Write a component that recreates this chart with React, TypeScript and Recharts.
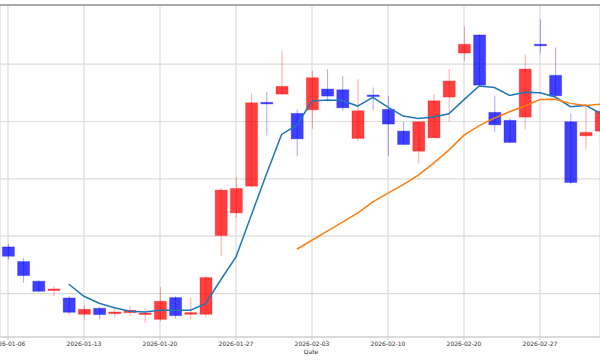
import { ComposedChart, Bar, Line, XAxis, YAxis, CartesianGrid, ReferenceLine, Label } from 'recharts';

const dates = [
  '2026-01-06', '2026-01-07', '2026-01-08', '2026-01-09', '2026-01-12',
  '2026-01-13', '2026-01-14', '2026-01-15', '2026-01-16', '2026-01-19',
  '2026-01-20', '2026-01-21', '2026-01-22', '2026-01-23', '2026-01-26',
  '2026-01-27', '2026-01-28', '2026-01-29', '2026-01-30', '2026-02-02',
  '2026-02-03', '2026-02-04', '2026-02-05', '2026-02-06', '2026-02-09',
  '2026-02-10', '2026-02-11', '2026-02-12', '2026-02-13', '2026-02-19',
  '2026-02-20', '2026-02-23', '2026-02-24', '2026-02-25', '2026-02-26',
  '2026-02-27', '2026-03-03', '2026-03-04', '2026-03-05', '2026-03-06',
];

const opens = [
  28.13, 25.58, 22.15, 20.58, 19.23, 16.39, 17.43, 16.51, 16.68, 16.39,
  15.51, 19.3, 16.39, 16.39, 30.12, 34.07, 38.73, 53.33, 54.78, 51.41,
  52.04, 55.65, 55.53, 47.05, 54.61, 52.11, 48.32, 44.83, 47.16, 54.26,
  61.94, 65.08, 51.59, 50.19, 50.77, 63.46, 58.05, 49.95, 47.5, 48.32,
];
const highs = [
  28.73, 26.21, 22.32, 21.27, 19.53, 17.96, 17.66, 17.66, 17.84, 17.38,
  21.15, 19.53, 19.3, 23.07, 38.43, 40.35, 54.9, 55.13, 62.34, 52.11,
  58.85, 59.14, 57.92, 57.4, 55.95, 54.49, 49.95, 50.07, 54.78, 59.14,
  66.53, 65.2, 54.49, 50.54, 61.71, 67.82, 62.93, 51.41, 52.98, 52.3,
];
const lows = [
  25.93, 21.85, 20.23, 19.53, 16.27, 15.51, 15.51, 15.81, 16.09, 14.87,
  15.17, 15.64, 15.46, 15.92, 26.56, 33.26, 38.5, 47.57, 54.7, 43.96,
  48.73, 53.44, 51.81, 46.63, 51.99, 43.96, 45.88, 42.69, 47.1, 49.95,
  60.54, 56.25, 48.2, 46.3, 48.62, 61.88, 54.21, 39.02, 45.13, 47.5,
];
const closes = [
  26.51, 23.14, 20.4, 20.8, 16.74, 17.26, 16.34, 16.79, 17.09, 16.61,
  18.66, 16.16, 16.68, 22.79, 38.03, 38.32, 53.26, 53.09, 56.13, 46.98,
  57.63, 54.43, 52.39, 51.87, 54.38, 49.55, 46.0, 49.95, 53.61, 57.05,
  63.46, 56.35, 49.42, 46.35, 59.14, 63.33, 54.49, 39.37, 48.1, 51.81,
];

const ma5 = [
  null, null, null, null, 21.62, 19.53, 18.31, 17.52, 16.91, 16.79,
  17.09, 17.09, 17.09, 18.25, 22.41, 26.39, 33.6, 40.82, 47.75, 49.37,
  53.56, 53.73, 53.65, 52.69, 54.21, 52.51, 50.94, 50.51, 50.77, 51.34,
  53.82, 56.18, 55.92, 54.55, 55.08, 55.01, 54.26, 52.57, 52.81, 51.38,
];
const ma20 = [
  null, null, null, null, null, null, null, null, null, null,
  null, null, null, null, null, null, null, null, null, 27.73,
  29.3, 30.87, 32.44, 34.01, 35.99, 37.5, 38.99, 40.65, 42.74, 45.01,
  47.63, 49.28, 50.59, 51.69, 52.69, 53.82, 53.86, 53.16, 52.81, 53.04,
];

const xTicks = [0, 5, 10, 15, 20, 25, 30, 35];
const yTicks = [20, 30, 40, 50, 60];
const yMin = 12.43;
const yMax = 70.31;

const data = dates.map((d, i) => ({
  idx: i,
  date: d,
  open: opens[i],
  high: highs[i],
  low: lows[i],
  close: closes[i],
  ma5: ma5[i],
  ma20: ma20[i],
}));

const Candle = (props: any) => {
  const { x, y, width, height, payload } = props;
  const { open, close, high, low } = payload;
  const color = close >= open ? '#ff0000' : '#0000ff';
  const ppu = high === low ? 0 : height / (high - low);
  const bodyTop = y + (high - Math.max(open, close)) * ppu;
  const bodyH = Math.max(Math.abs(open - close) * ppu, 1.5);
  const cx = x + width / 2;
  return (
    <g>
      <line x1={cx} x2={cx} y1={y} y2={y + height} stroke={color} strokeOpacity={0.35} strokeWidth={1} />
      <rect
        x={x}
        y={bodyTop}
        width={width}
        height={bodyH}
        fill={color}
        fillOpacity={0.75}
        stroke={color}
        strokeOpacity={0.3}
        strokeWidth={1}
      />
    </g>
  );
};

const DateTick = (props: any) => {
  const { x, y, payload } = props;
  return (
    <text x={x} y={y + 4} textAnchor="middle" fontSize={6} fill="#333" fontFamily="DejaVu Sans">
      {dates[payload.value]}
    </text>
  );
};

export default function App() {
  return (
    <div style={{ position: 'absolute', left: 0, top: 0, width: 600, height: 360, background: '#fff' }}>
      <ComposedChart width={600} height={360} data={data} margin={{ top: 5, right: 0, left: 0, bottom: 0 }}>
        <CartesianGrid stroke="#dcdcdc" strokeWidth={1.2} />
        <XAxis
          dataKey="idx"
          type="number"
          domain={[-0.5263, 38.947]}
          allowDataOverflow
          ticks={xTicks}
          interval={0}
          height={23}
          tickSize={3}
          tickMargin={2}
          axisLine={{ stroke: '#c8c8c8' }}
          tickLine={{ stroke: '#c8c8c8' }}
          tick={<DateTick />}
        >
          <Label
            content={({ viewBox }: any) => (
              <text
                x={viewBox.x + viewBox.width / 2 + 11}
                y={viewBox.y + viewBox.height - 6}
                textAnchor="middle"
                fontSize={6}
                fill="#333"
                fontFamily="DejaVu Sans"
              >
                Date
              </text>
            )}
          />
        </XAxis>
        <YAxis hide domain={[yMin, yMax]} allowDataOverflow ticks={yTicks} />
        <ReferenceLine y={yMax} stroke="#aaaaaa" strokeWidth={2} />
        <Bar dataKey={(d: any) => [d.low, d.high]} barSize={12} shape={<Candle />} isAnimationActive={false} />
        <Line dataKey="ma5" stroke="#1f77b4" strokeWidth={1.5} dot={false} type="linear" isAnimationActive={false} />
        <Line dataKey="ma20" stroke="#ff7f0e" strokeWidth={1.5} dot={false} type="linear" isAnimationActive={false} />
      </ComposedChart>
    </div>
  );
}
